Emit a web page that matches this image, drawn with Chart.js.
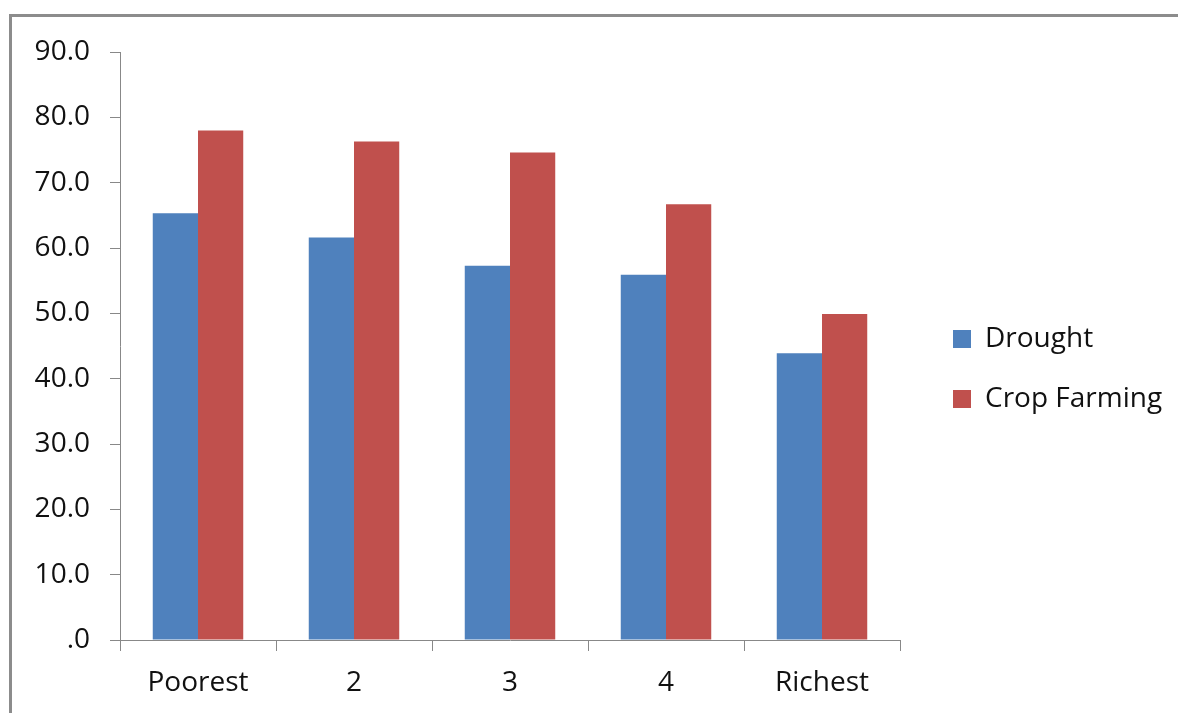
<!DOCTYPE html>
<html>
<head>
<meta charset="utf-8">
<script src="https://cdn.jsdelivr.net/npm/chart.js@4/dist/chart.umd.min.js"></script>
<style>
  html, body { margin: 0; padding: 0; background: #fff; overflow: hidden; }
  #frame {
    position: absolute; left: 9px; top: 14px; width: 1169px; height: 699px;
    border-left: 3px solid #8c8c8c; border-top: 3px solid #8c8c8c;
    box-sizing: border-box;
  }
  #wrap { position: absolute; left: 0; top: 0; width: 1178px; height: 713px; }
</style>
</head>
<body>
<div id="frame"></div>
<div id="wrap"><canvas id="wealthChart" width="1178" height="713"></canvas></div>
<script>
// Wealth quintiles
const quintiles = ['Poorest', '2', '3', '4', 'Richest'];
const drought = [65.3, 61.6, 57.3, 55.9, 43.9];
const cropFarming = [78.0, 76.3, 74.6, 66.7, 49.9];

const axisGray = '#888888';
const textColor = '#111111';
const fontFamily = '"Open Sans", "Liberation Sans", sans-serif';
const fontSize = 28;
const legendLeft = 921;   // legend box starts at legendLeft + labels padding

const chart = new Chart(document.getElementById('wealthChart'), {
  type: 'bar',
  data: {
    labels: quintiles,
    datasets: [{
        label: 'Drought',
        backgroundColor: '#4f81bd',
        data: drought
      },
      {
        label: 'Crop Farming',
        backgroundColor: '#c0504d',
        data: cropFarming
      }
    ]
  },
  options: {
    responsive: false,
    animation: false,
    categoryPercentage: 0.58,
    barPercentage: 1.0,
    layout: {
      padding: { top: 38, bottom: 13, left: 0, right: 5 }
    },
    plugins: {
      tooltip: { enabled: false },
      legend: {
        position: 'right',
        maxWidth: 400,
        labels: {
          boxWidth: 18,
          boxHeight: 18,
          padding: 32,
          color: textColor,
          font: { family: fontFamily, size: fontSize }
        }
      }
    },
    scales: {
      x: {
        grid: {
          offset: true,
          drawOnChartArea: false,
          tickLength: 11,
          color: axisGray
        },
        border: { color: axisGray, width: 1 },
        ticks: {
          padding: 15,
          color: textColor,
          font: { family: fontFamily, size: fontSize }
        },
        afterFit: function(scale) { scale.height = 60; }
      },
      y: {
        min: 0,
        max: 90,
        grid: {
          drawOnChartArea: false,
          tickLength: 10,
          color: axisGray
        },
        border: { color: axisGray, width: 1 },
        ticks: {
          stepSize: 10,
          padding: 20,
          color: textColor,
          font: { family: fontFamily, size: fontSize },
          callback: function(value) {
            return value === 0 ? '.0' : value.toFixed(1);
          }
        },
        afterFit: function(scale) { scale.width = 120; }
      },
      // empty spacer scales: room above the plot and between plot and legend
      gapTop: {
        type: 'linear',
        axis: 'x',
        position: 'top',
        grid: { display: false },
        border: { display: false },
        ticks: { display: false },
        afterFit: function(scale) { scale.height = 14; }
      },
      gapRight: {
        type: 'linear',
        axis: 'y',
        position: 'right',
        grid: { display: false },
        border: { display: false },
        ticks: { display: false },
        afterFit: function(scale) { scale.width = 21; }
      }
    }
  }
});

// pin the legend so the plot ends where the reference does
chart.options.layout.padding.right += chart.legend.left - legendLeft;
chart.update();
</script>
</body>
</html>
